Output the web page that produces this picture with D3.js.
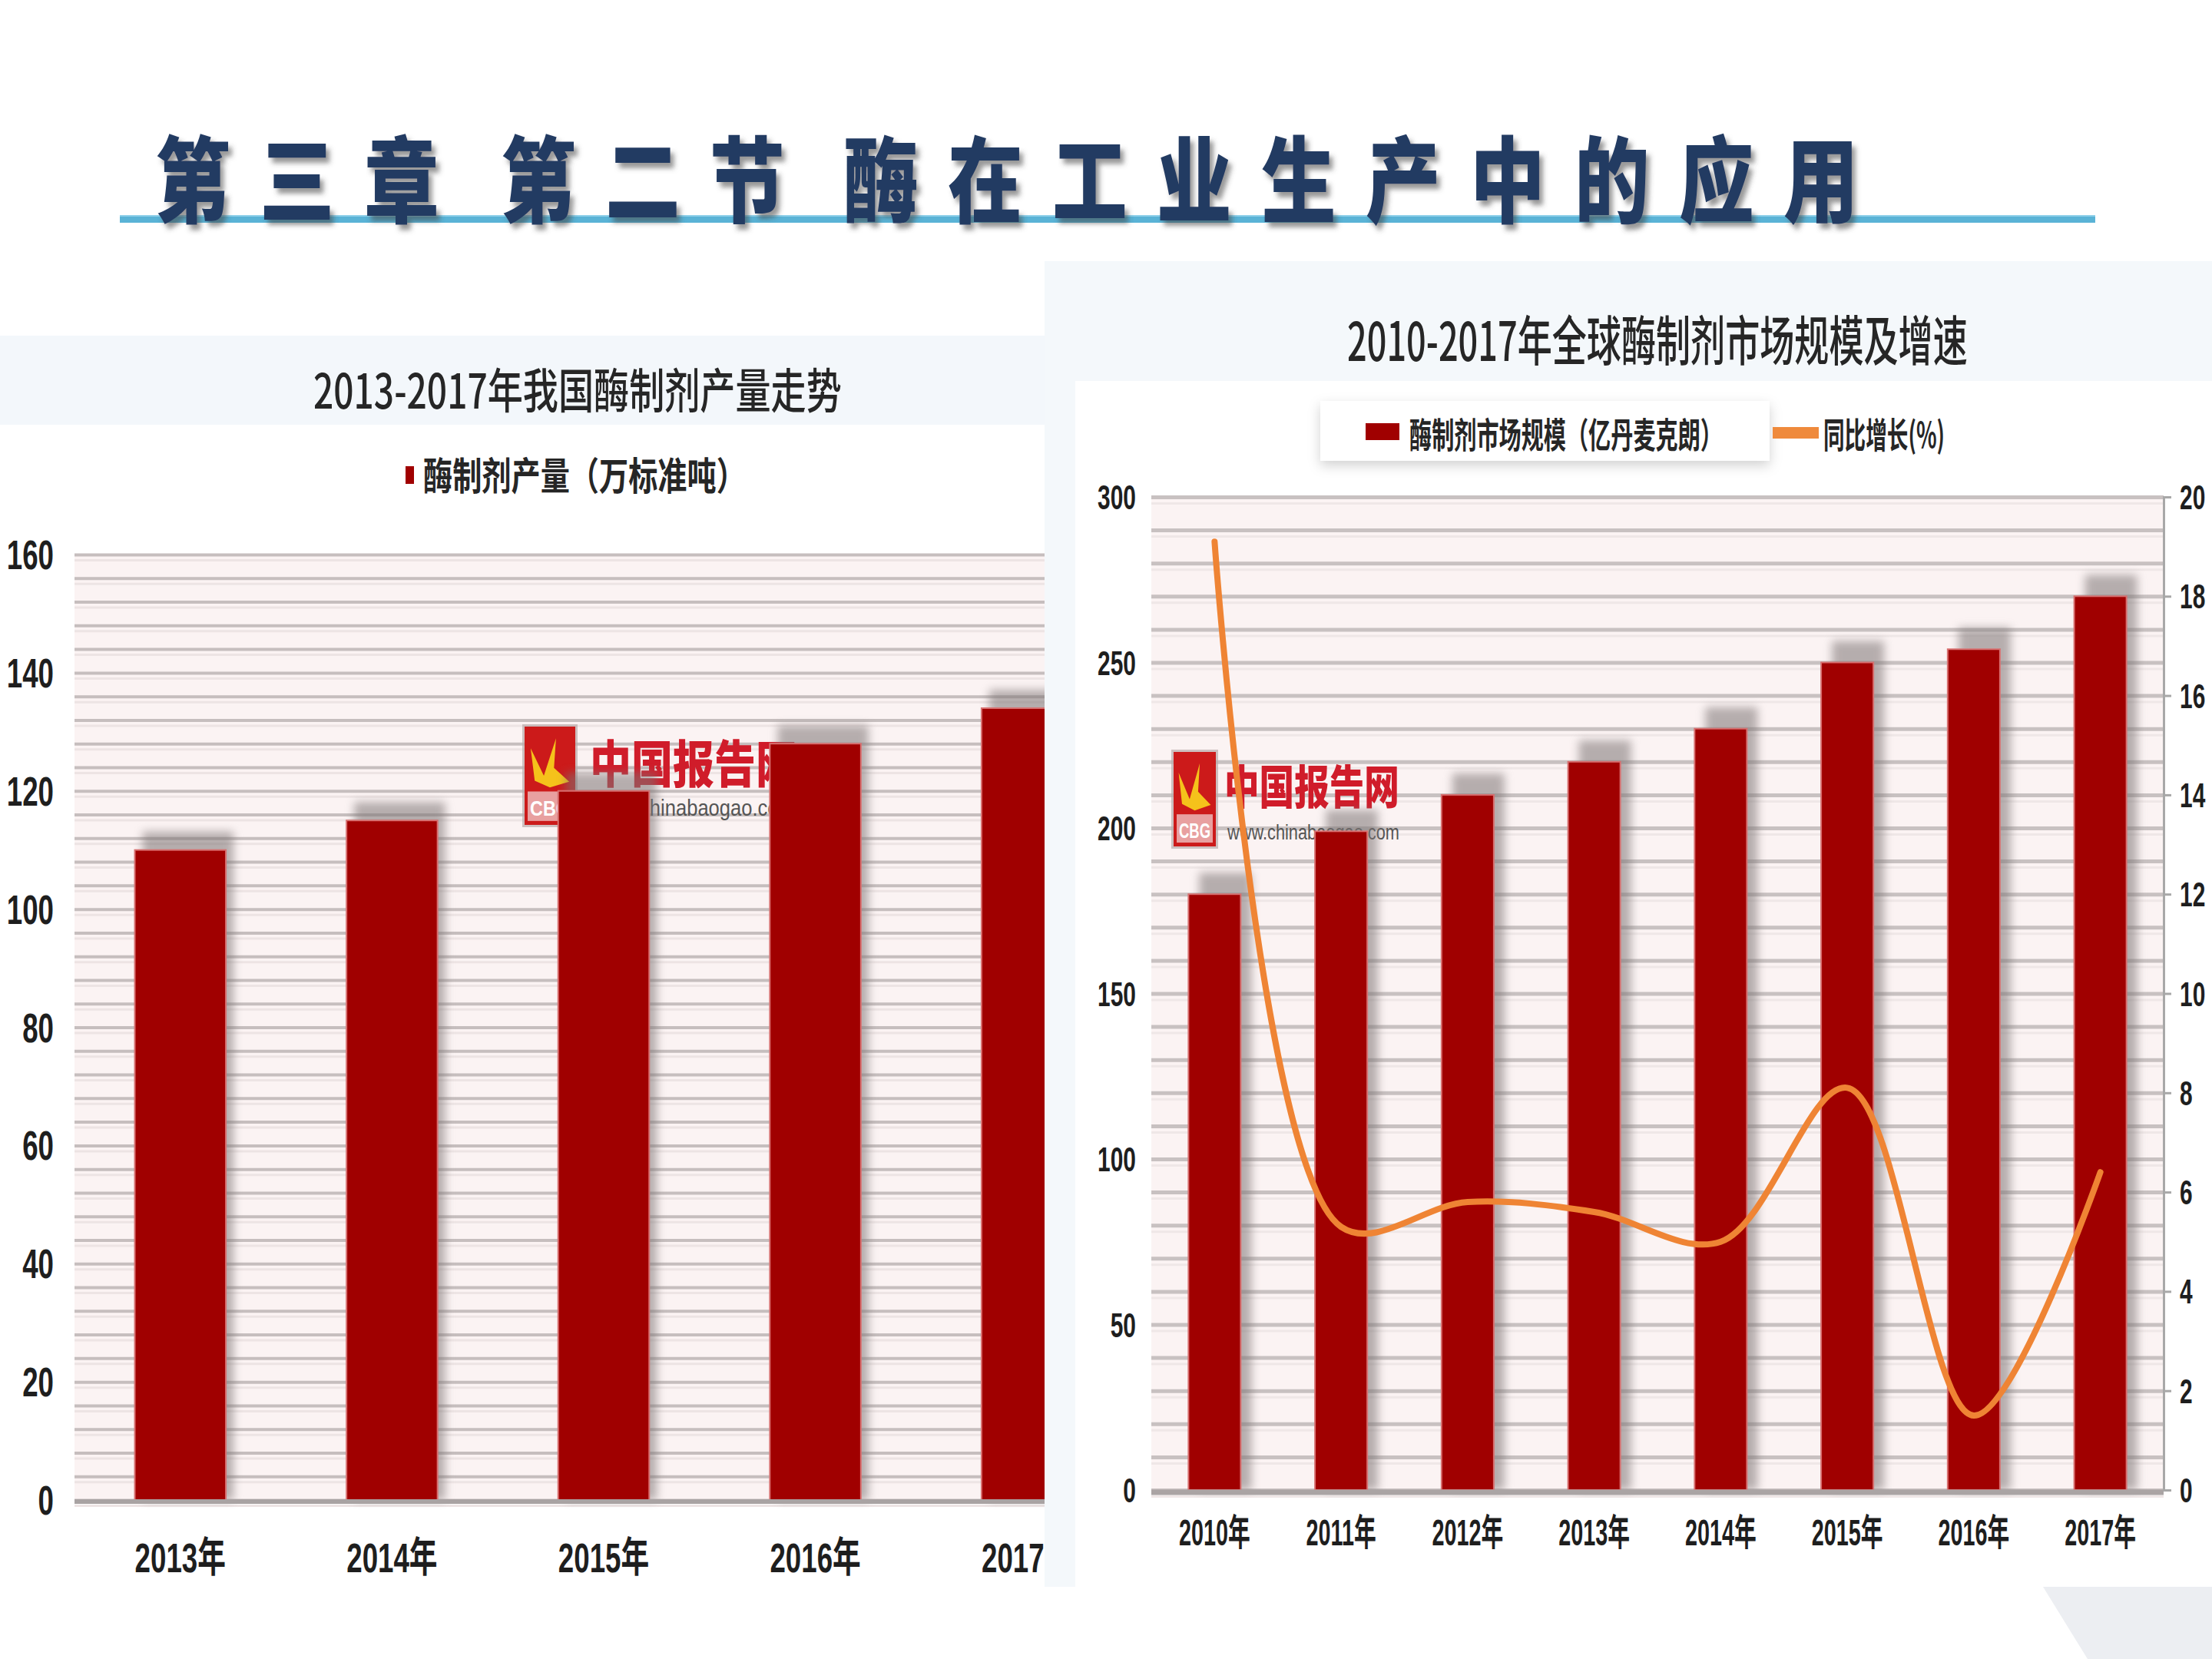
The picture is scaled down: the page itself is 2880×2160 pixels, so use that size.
<!DOCTYPE html>
<html><head><meta charset="utf-8">
<script src="https://cdn.jsdelivr.net/npm/d3@7"></script>
<style>html,body{margin:0;padding:0;background:#fff;} svg{display:block}</style>
</head><body><svg id="c" width="2880" height="2160"></svg>
<script>
// ---------- DATA ----------
const pageTitleGroups = ["第三章", "第二节", "酶在工业生产中的应用"];

const leftTitle = "2013-2017年我国酶制剂产量走势";
const leftLegend = "酶制剂产量（万标准吨）";
const leftYears = ["2013年", "2014年", "2015年", "2016年", "2017年"];
const leftValues = [110, 115, 120, 128, 134];
const leftTicks = [0, 20, 40, 60, 80, 100, 120, 140, 160];

const rightTitle = "2010-2017年全球酶制剂市场规模及增速";
const rightLegendLabels = ["酶制剂市场规模（亿丹麦克朗）", "同比增长(%)"];
const rightYears = ["2010年", "2011年", "2012年", "2013年", "2014年", "2015年", "2016年", "2017年"];
const marketSize = [180, 199, 210, 220, 230, 250, 254, 270];
const growthRate = [19.1, 5.3, 5.8, 5.6, 5.0, 8.1, 1.5, 6.4];
const rightLeftTicks = [0, 50, 100, 150, 200, 250, 300];
const rightRightTicks = [0, 2, 4, 6, 8, 10, 12, 14, 16, 18, 20];

const watermarkName = "中国报告网";
const watermarkUrl = "www.chinabaogao.com";

// ---------- SETUP ----------
const FONT = "'Liberation Sans','Noto Sans CJK SC',sans-serif";
const CJK = "'Noto Sans CJK SC',sans-serif";
const BAR = "#a00000";
const svg = d3.select("#c");
const defs = svg.append("defs");
defs.append("filter").attr("id", "blur").attr("x", "-50%").attr("y", "-50%").attr("width", "200%").attr("height", "200%")
  .append("feGaussianBlur").attr("stdDeviation", 6);
const ts = defs.append("filter").attr("id", "tshadow").attr("x", "-20%").attr("y", "-20%").attr("width", "150%").attr("height", "150%");
ts.append("feDropShadow").attr("dx", 5).attr("dy", 7).attr("stdDeviation", 3).attr("flood-color", "#444").attr("flood-opacity", 0.55);
const bs = defs.append("filter").attr("id", "boxshadow").attr("x", "-10%").attr("y", "-40%").attr("width", "120%").attr("height", "180%");
bs.append("feDropShadow").attr("dx", 0).attr("dy", 6).attr("stdDeviation", 8).attr("flood-color", "#000").attr("flood-opacity", 0.18);
defs.append("clipPath").attr("id", "leftClip").append("rect").attr("x", 0).attr("y", 0).attr("width", 1360).attr("height", 2160);

function ctext(g, str, x, y, size, sx, anchor, opts = {}) {
  return g.append("text")
    .attr("transform", `translate(${x},${y}) scale(${sx},1)`)
    .attr("text-anchor", anchor)
    .attr("font-family", opts.family || FONT)
    .attr("font-size", size)
    .attr("font-weight", opts.weight || 700)
    .attr("fill", opts.fill || "#1e1e1e")
    .text(str);
}
// text squeezed horizontally to a target width (start anchored)
function fitText(g, str, x, y, size, width, opts = {}) {
  const t = ctext(g, str, x, y, size, 1, "start", opts);
  const w = t.node().getComputedTextLength() || width;
  t.attr("transform", `translate(${x},${y}) scale(${width / w},1)`);
  return t;
}

// ---------- BACKGROUND PANELS ----------
svg.append("rect").attr("x", 0).attr("y", 437).attr("width", 1360).attr("height", 116).attr("fill", "#f3f7fb");
svg.append("rect").attr("x", 1360).attr("y", 340).attr("width", 1520).attr("height", 1726).attr("fill", "#f4f8fb");
svg.append("rect").attr("x", 1400).attr("y", 496).attr("width", 1480).attr("height", 1570).attr("fill", "#ffffff");
svg.append("polygon").attr("points", "2660,2066 2880,2066 2880,2160 2718,2160").attr("fill", "#eceef2");

// ---------- PAGE TITLE ----------
svg.append("rect").attr("x", 156).attr("y", 280).attr("width", 2572).attr("height", 10).attr("fill", "#5ab3d6");
svg.append("rect").attr("x", 156).attr("y", 280).attr("width", 2572).attr("height", 2).attr("fill", "#8fd0ea");
const groupStarts = [202, 652, 1098];
const titleG = svg.append("g").attr("filter", "url(#tshadow)");
pageTitleGroups.forEach((grp, gi) => {
  Array.from(grp).forEach((ch, i) => {
    ctext(titleG, ch, groupStarts[gi] + i * 136, 280, 122, 0.8, "start", { family: CJK, weight: 900, fill: "#243a62" });
  });
});

// ---------- WATERMARK ----------
function watermark(g, bx, by, bw, bh, tx, nameBase, nameSize, nameLen, urlBase, urlSize, urlLen) {
  g.append("rect").attr("x", bx - 3).attr("y", by - 3).attr("width", bw + 6).attr("height", bh + 6).attr("fill", "#b9a9a9").attr("opacity", 0.7);
  g.append("rect").attr("x", bx).attr("y", by).attr("width", bw).attr("height", bh).attr("fill", "#cc1a1a");
  g.append("polygon").attr("points",
    `${bx + bw * 0.12},${by + bh * 0.22} ${bx + bw * 0.38},${by + bh * 0.5} ${bx + bw * 0.62},${by + bh * 0.12} ${bx + bw * 0.58},${by + bh * 0.42} ${bx + bw * 0.88},${by + bh * 0.56} ${bx + bw * 0.5},${by + bh * 0.62} ${bx + bw * 0.2},${by + bh * 0.55}`)
    .attr("fill", "#f5c21b");
  g.append("rect").attr("x", bx + 4).attr("y", by + bh * 0.66).attr("width", bw - 8).attr("height", bh * 0.3).attr("fill", "#e8a0a0");
  fitText(g, "CBG", bx + 7, by + bh * 0.91, bh * 0.22, bw - 14, { fill: "#fff" });
  fitText(g, watermarkName, tx, nameBase, nameSize, nameLen, { family: CJK, weight: 900, fill: "#d01c2a" });
  fitText(g, watermarkUrl, tx + 4, urlBase, urlSize, urlLen - 4, { weight: 400, fill: "#555" });
}

// ---------- LEFT CHART ----------
{
  const g = svg.append("g").attr("clip-path", "url(#leftClip)");
  const x0 = 97, x1 = 97 + 5 * 275.6, yT = 722, yB = 1953;
  const x = d3.scaleBand().domain(leftYears).range([x0, x1]).paddingInner(0.57).paddingOuter(0.285);
  const y = d3.scaleLinear().domain([0, 160]).range([yB, yT]);

  fitText(svg, leftTitle, 408, 532, 62, 688, { family: CJK, weight: 500, fill: "#262626" });
  svg.append("rect").attr("x", 528).attr("y", 607).attr("width", 11).attr("height", 23).attr("fill", BAR);
  fitText(svg, leftLegend, 551, 638, 50, 420, { family: CJK, weight: 700, fill: "#262626" });

  g.append("rect").attr("x", x0).attr("y", yT).attr("width", x1 - x0).attr("height", yB - yT).attr("fill", "#fbf3f3");

  const grid = g.append("g").attr("transform", `translate(${x0},0)`)
    .call(d3.axisLeft(y).tickValues(d3.range(0, 161, 4)).tickSize(-(x1 - x0)).tickFormat(""));
  grid.select(".domain").remove();
  grid.selectAll("line").attr("stroke", "#c6bebe").attr("stroke-width", 4);
  grid.selectAll(".tick").append("line").attr("x2", x1 - x0).attr("y1", 7).attr("y2", 7).attr("stroke", "#ede4e4").attr("stroke-width", 3);

  watermark(g, 683, 946, 66, 128, 768, 1019, 66, 270, 1062, 30, 267);

  g.selectAll(".shadowL").data(leftValues).join("rect").attr("class", "shadowL")
    .attr("x", (d, i) => x(leftYears[i]) + 10).attr("y", d => y(d) - 24)
    .attr("width", x.bandwidth()).attr("height", d => yB - y(d) + 24)
    .attr("fill", "#7d7575").attr("opacity", 0.55).attr("filter", "url(#blur)");
  g.selectAll(".barL").data(leftValues).join("rect").attr("class", "barL")
    .attr("x", (d, i) => x(leftYears[i])).attr("y", d => y(d))
    .attr("width", x.bandwidth()).attr("height", d => yB - y(d))
    .attr("fill", BAR).attr("stroke", "#d87070").attr("stroke-width", 2);

  g.append("line").attr("x1", x0).attr("x2", x1).attr("y1", yB + 2).attr("y2", yB + 2).attr("stroke", "#a9a3a3").attr("stroke-width", 6);

  const lab = g.append("g");
  leftTicks.forEach(t => ctext(lab, String(t), 70, y(t) + 19, 54, 0.68, "end"));
  leftYears.forEach(yr => ctext(lab, yr, x(yr) + x.bandwidth() / 2, 2047, 54, 0.68, "middle"));
}

// ---------- RIGHT CHART ----------
{
  const g = svg.append("g");
  const x0 = 1499, x1 = 2817, yT = 647, yB = 1940;
  const x = d3.scaleBand().domain(rightYears).range([x0, x1]).paddingInner(0.587).paddingOuter(0.2935);
  const y = d3.scaleLinear().domain([0, 300]).range([yB, yT]);
  const y2 = d3.scaleLinear().domain([0, 20]).range([yB, yT]);

  fitText(svg, rightTitle, 1754, 470, 70, 808, { family: CJK, weight: 500, fill: "#262626" });

  // legend
  svg.append("rect").attr("x", 1719).attr("y", 522).attr("width", 585).attr("height", 78).attr("fill", "#fff").attr("filter", "url(#boxshadow)");
  svg.append("rect").attr("x", 1778).attr("y", 551).attr("width", 44).attr("height", 22).attr("fill", BAR);
  fitText(svg, rightLegendLabels[0], 1835, 583, 46, 408, { family: CJK, weight: 700, fill: "#262626" });
  svg.append("rect").attr("x", 2308).attr("y", 556).attr("width", 60).attr("height", 15).attr("fill", "#ef8a3c");
  fitText(svg, rightLegendLabels[1], 2374, 583, 46, 158, { family: CJK, weight: 700, fill: "#262626" });

  g.append("rect").attr("x", x0).attr("y", yT).attr("width", x1 - x0).attr("height", yB - yT).attr("fill", "#fbf3f3");
  const grid = g.append("g").attr("transform", `translate(${x0},0)`)
    .call(d3.axisLeft(y).tickValues(d3.range(0, 301, 10)).tickSize(-(x1 - x0)).tickFormat(""));
  grid.select(".domain").remove();
  grid.selectAll("line").attr("stroke", "#c8c1c1").attr("stroke-width", 5);
  grid.selectAll(".tick").append("line").attr("x2", x1 - x0).attr("y1", 8).attr("y2", 8).attr("stroke", "#efe7e7").attr("stroke-width", 3);

  watermark(g, 1528, 979, 55, 123, 1594, 1047, 60, 228, 1093, 28, 228);

  g.selectAll(".shadowR").data(marketSize).join("rect").attr("class", "shadowR")
    .attr("x", (d, i) => x(rightYears[i]) + 14).attr("y", d => y(d) - 28)
    .attr("width", x.bandwidth()).attr("height", d => yB - y(d) + 28)
    .attr("fill", "#7d7575").attr("opacity", 0.55).attr("filter", "url(#blur)");
  g.selectAll(".barR").data(marketSize).join("rect").attr("class", "barR")
    .attr("x", (d, i) => x(rightYears[i])).attr("y", d => y(d))
    .attr("width", x.bandwidth()).attr("height", d => yB - y(d))
    .attr("fill", BAR).attr("stroke", "#d87070").attr("stroke-width", 2);

  g.append("line").attr("x1", x0).attr("x2", x1).attr("y1", yB + 3).attr("y2", yB + 3).attr("stroke", "#aaa4a4").attr("stroke-width", 7);

  // right axis
  const ra = g.append("g").attr("transform", `translate(${x1},0)`)
    .call(d3.axisRight(y2).tickValues(rightRightTicks).tickSize(10).tickFormat(""));
  ra.select(".domain").attr("stroke", "#a8a8a8").attr("stroke-width", 3);
  ra.selectAll("line").attr("stroke", "#a8a8a8").attr("stroke-width", 3);

  const line = d3.line().x((d, i) => x(rightYears[i]) + x.bandwidth() / 2).y(d => y2(d)).curve(d3.curveCatmullRom.alpha(0.5));
  g.append("path").datum(growthRate).attr("d", line).attr("fill", "none")
    .attr("stroke", "#ef8434").attr("stroke-width", 8).attr("stroke-linecap", "round");

  const lab = svg.append("g");
  rightLeftTicks.forEach(t => ctext(lab, String(t), 1479, y(t) + 16, 44, 0.68, "end"));
  rightRightTicks.forEach(t => ctext(lab, String(t), 2838, y2(t) + 16, 44, 0.68, "start"));
  rightYears.forEach(yr => ctext(lab, yr, x(yr) + x.bandwidth() / 2, 2012, 48, 0.6, "middle"));
}
</script>
</body></html>
